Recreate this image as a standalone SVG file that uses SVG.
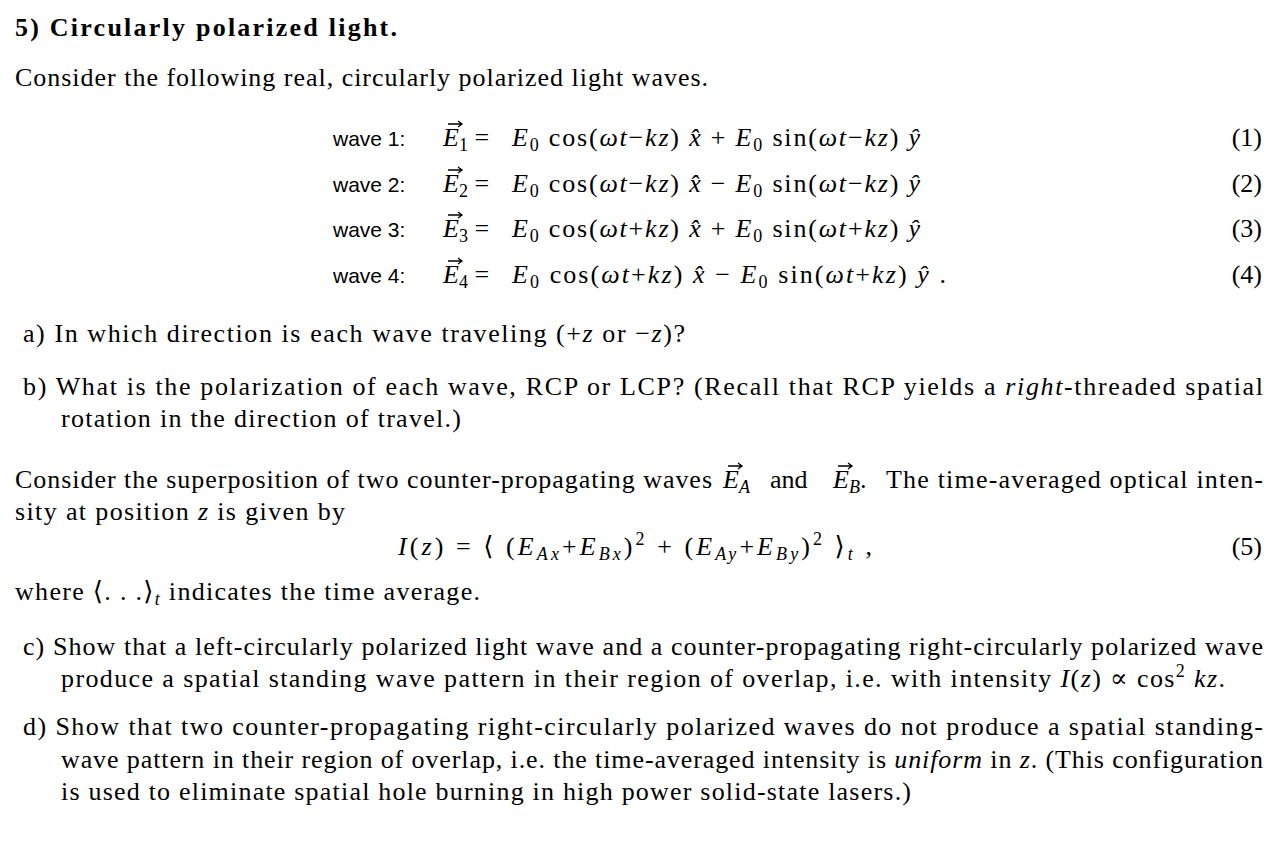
<svg xmlns="http://www.w3.org/2000/svg" width="1284" height="866" viewBox="0 0 1284 866">
<style>
text{font-family:"Liberation Serif","DejaVu Serif",serif;font-size:26px;fill:#000}
.s{font-family:"Liberation Sans",Arial,sans-serif;font-size:21px}
.i{font-style:italic}
.n{text-anchor:end}
.sub{font-size:18px}
.ar{stroke:#000;stroke-width:1.3;fill:none}
</style>
<rect width="1284" height="866" fill="#fff"/>
<text x="15" y="36" font-weight="bold" textLength="382">5) Circularly polarized light.</text>
<text x="15" y="86" textLength="693">Consider the following real, circularly polarized light waves.</text>
<g id="equations">
<text class="s" x="333" y="146">wave 1:</text>
<text class="s" x="333" y="192">wave 2:</text>
<text class="s" x="333" y="237">wave 3:</text>
<text class="s" x="333" y="283">wave 4:</text>
<text x="443" y="146"><tspan class="i">E</tspan><tspan class="sub" dy="5">1</tspan><tspan dy="-5"> = </tspan></text>
<text x="443" y="192"><tspan class="i">E</tspan><tspan class="sub" dy="5">2</tspan><tspan dy="-5"> = </tspan></text>
<text x="443" y="237"><tspan class="i">E</tspan><tspan class="sub" dy="5">3</tspan><tspan dy="-5"> = </tspan></text>
<text x="443" y="283"><tspan class="i">E</tspan><tspan class="sub" dy="5">4</tspan><tspan dy="-5"> = </tspan></text>
<path class="ar" d="M448 124h14m-4-3l4 3-4 3M448 170h14m-4-3l4 3-4 3M448 215h14m-4-3l4 3-4 3M448 261h14m-4-3l4 3-4 3"/>
<text x="512" y="146" textLength="408"><tspan class="i">E</tspan><tspan class="sub" dy="5">0</tspan><tspan dy="-5"> cos(</tspan><tspan class="i">ωt</tspan>−<tspan class="i">kz</tspan>) <tspan class="i">x̂</tspan> + <tspan class="i">E</tspan><tspan class="sub" dy="5">0</tspan><tspan dy="-5"> sin(</tspan><tspan class="i">ωt</tspan>−<tspan class="i">kz</tspan>) <tspan class="i">ŷ</tspan></text>
<text x="512" y="192" textLength="408"><tspan class="i">E</tspan><tspan class="sub" dy="5">0</tspan><tspan dy="-5"> cos(</tspan><tspan class="i">ωt</tspan>−<tspan class="i">kz</tspan>) <tspan class="i">x̂</tspan> − <tspan class="i">E</tspan><tspan class="sub" dy="5">0</tspan><tspan dy="-5"> sin(</tspan><tspan class="i">ωt</tspan>−<tspan class="i">kz</tspan>) <tspan class="i">ŷ</tspan></text>
<text x="512" y="237" textLength="408"><tspan class="i">E</tspan><tspan class="sub" dy="5">0</tspan><tspan dy="-5"> cos(</tspan><tspan class="i">ωt</tspan>+<tspan class="i">kz</tspan>) <tspan class="i">x̂</tspan> + <tspan class="i">E</tspan><tspan class="sub" dy="5">0</tspan><tspan dy="-5"> sin(</tspan><tspan class="i">ωt</tspan>+<tspan class="i">kz</tspan>) <tspan class="i">ŷ</tspan></text>
<text x="512" y="283" textLength="434"><tspan class="i">E</tspan><tspan class="sub" dy="5">0</tspan><tspan dy="-5"> cos(</tspan><tspan class="i">ωt</tspan>+<tspan class="i">kz</tspan>) <tspan class="i">x̂</tspan> − <tspan class="i">E</tspan><tspan class="sub" dy="5">0</tspan><tspan dy="-5"> sin(</tspan><tspan class="i">ωt</tspan>+<tspan class="i">kz</tspan>) <tspan class="i">ŷ</tspan>  .</text>
<text class="n" x="1262" y="146">(1)</text>
<text class="n" x="1262" y="192">(2)</text>
<text class="n" x="1262" y="237">(3)</text>
<text class="n" x="1262" y="283">(4)</text>
</g>
<text x="23" y="342" textLength="662">a)  In which direction is each wave traveling (+<tspan class="i">z</tspan> or −<tspan class="i">z</tspan>)?</text>
<text x="23" y="395" textLength="1240">b)  What is the polarization of each wave, RCP or LCP? (Recall that RCP yields a <tspan class="i">right</tspan>-threaded spatial</text>
<text x="61" y="427" textLength="400">rotation in the direction of travel.)</text>
<text x="15" y="488" textLength="697">Consider the superposition of two counter-propagating waves</text>
<text x="723" y="488"><tspan class="i">E</tspan><tspan class="sub i" dy="5">A</tspan></text>
<text x="770" y="488">and</text>
<text x="833" y="488"><tspan class="i">E</tspan><tspan class="sub i" dy="5">B</tspan><tspan dy="-5">.</tspan></text>
<text x="886" y="488" textLength="377">The time-averaged optical inten-</text>
<path class="ar" d="M728 466h14m-4-3l4 3-4 3M838 466h14m-4-3l4 3-4 3"/>
<text x="15" y="520" textLength="330">sity at position <tspan class="i">z</tspan> is given by</text>
<text x="398" y="555" textLength="474"><tspan class="i">I</tspan>(<tspan class="i">z</tspan>) = ⟨ (<tspan class="i">E</tspan><tspan class="sub i" dy="5">Ax</tspan><tspan dy="-5">+</tspan><tspan class="i">E</tspan><tspan class="sub i" dy="5">Bx</tspan><tspan dy="-5">)</tspan><tspan class="sub" dy="-10">2</tspan><tspan dy="10"> + (</tspan><tspan class="i">E</tspan><tspan class="sub i" dy="5">Ay</tspan><tspan dy="-5">+</tspan><tspan class="i">E</tspan><tspan class="sub i" dy="5">By</tspan><tspan dy="-5">)</tspan><tspan class="sub" dy="-10">2</tspan><tspan dy="10"> ⟩</tspan><tspan class="sub i" dy="5">t</tspan><tspan dy="-5"> ,</tspan></text>
<text class="n" x="1262" y="555">(5)</text>
<text x="15" y="600" textLength="465">where ⟨. . .⟩<tspan class="sub i" dy="5">t</tspan><tspan dy="-5"> indicates the time average.</tspan></text>
<text x="23" y="655" textLength="1240">c)  Show that a left-circularly polarized light wave and a counter-propagating right-circularly polarized wave</text>
<text x="61" y="687" textLength="1164">produce a spatial standing wave pattern in their region of overlap, i.e. with intensity <tspan class="i">I</tspan>(<tspan class="i">z</tspan>) ∝ cos<tspan class="sub" dy="-10">2</tspan><tspan dy="10"> </tspan><tspan class="i">kz</tspan>.</text>
<text x="23" y="735" textLength="1240">d)  Show that two counter-propagating right-circularly polarized waves do not produce a spatial standing-</text>
<text x="61" y="768" textLength="1202">wave pattern in their region of overlap, i.e. the time-averaged intensity is <tspan class="i">uniform</tspan> in <tspan class="i">z</tspan>. (This configuration</text>
<text x="61" y="800" textLength="850">is used to eliminate spatial hole burning in high power solid-state lasers.)</text>
</svg>
